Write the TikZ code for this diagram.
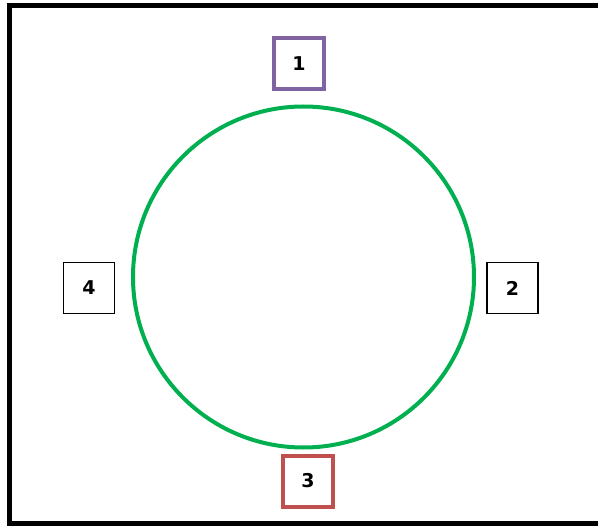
\documentclass[tikz,border=0pt]{standalone}
\usepackage{fontspec}
\setmainfont{DejaVu Sans}
\definecolor{ringgreen}{RGB}{0,176,80}
\definecolor{boxpurple}{RGB}{128,100,162}
\definecolor{boxred}{RGB}{192,80,77}
\begin{document}
\begin{tikzpicture}[x=1pt,y=-1pt,
  numbox/.style={draw=black,line width=1.6pt,minimum width=51pt,minimum height=51pt,inner sep=0pt,font=\bfseries\fontsize{19}{19}\selectfont,fill=white},
  thickbox/.style={numbox,line width=4pt,minimum width=50pt,minimum height=51pt}]
\useasboundingbox (0,0) rectangle (598,527);
\fill[white] (0,0) rectangle (598,527);
\draw[line width=5pt] (605,5.5) -- (9.5,5.5) -- (9.5,523.5) -- (605,523.5);
\node[draw=ringgreen,line width=4pt,circle,minimum size=341pt,inner sep=0pt] (ring) at (303.5,277) {};
\node[thickbox,draw=boxpurple] (b1) at (299,63.5) {1};
\node[numbox] (b2) at (512.5,288) {2};
\node[thickbox,draw=boxred] (b3) at (308,481) {3};
\node[numbox] (b4) at (89,288) {4};
\end{tikzpicture}
\end{document}
